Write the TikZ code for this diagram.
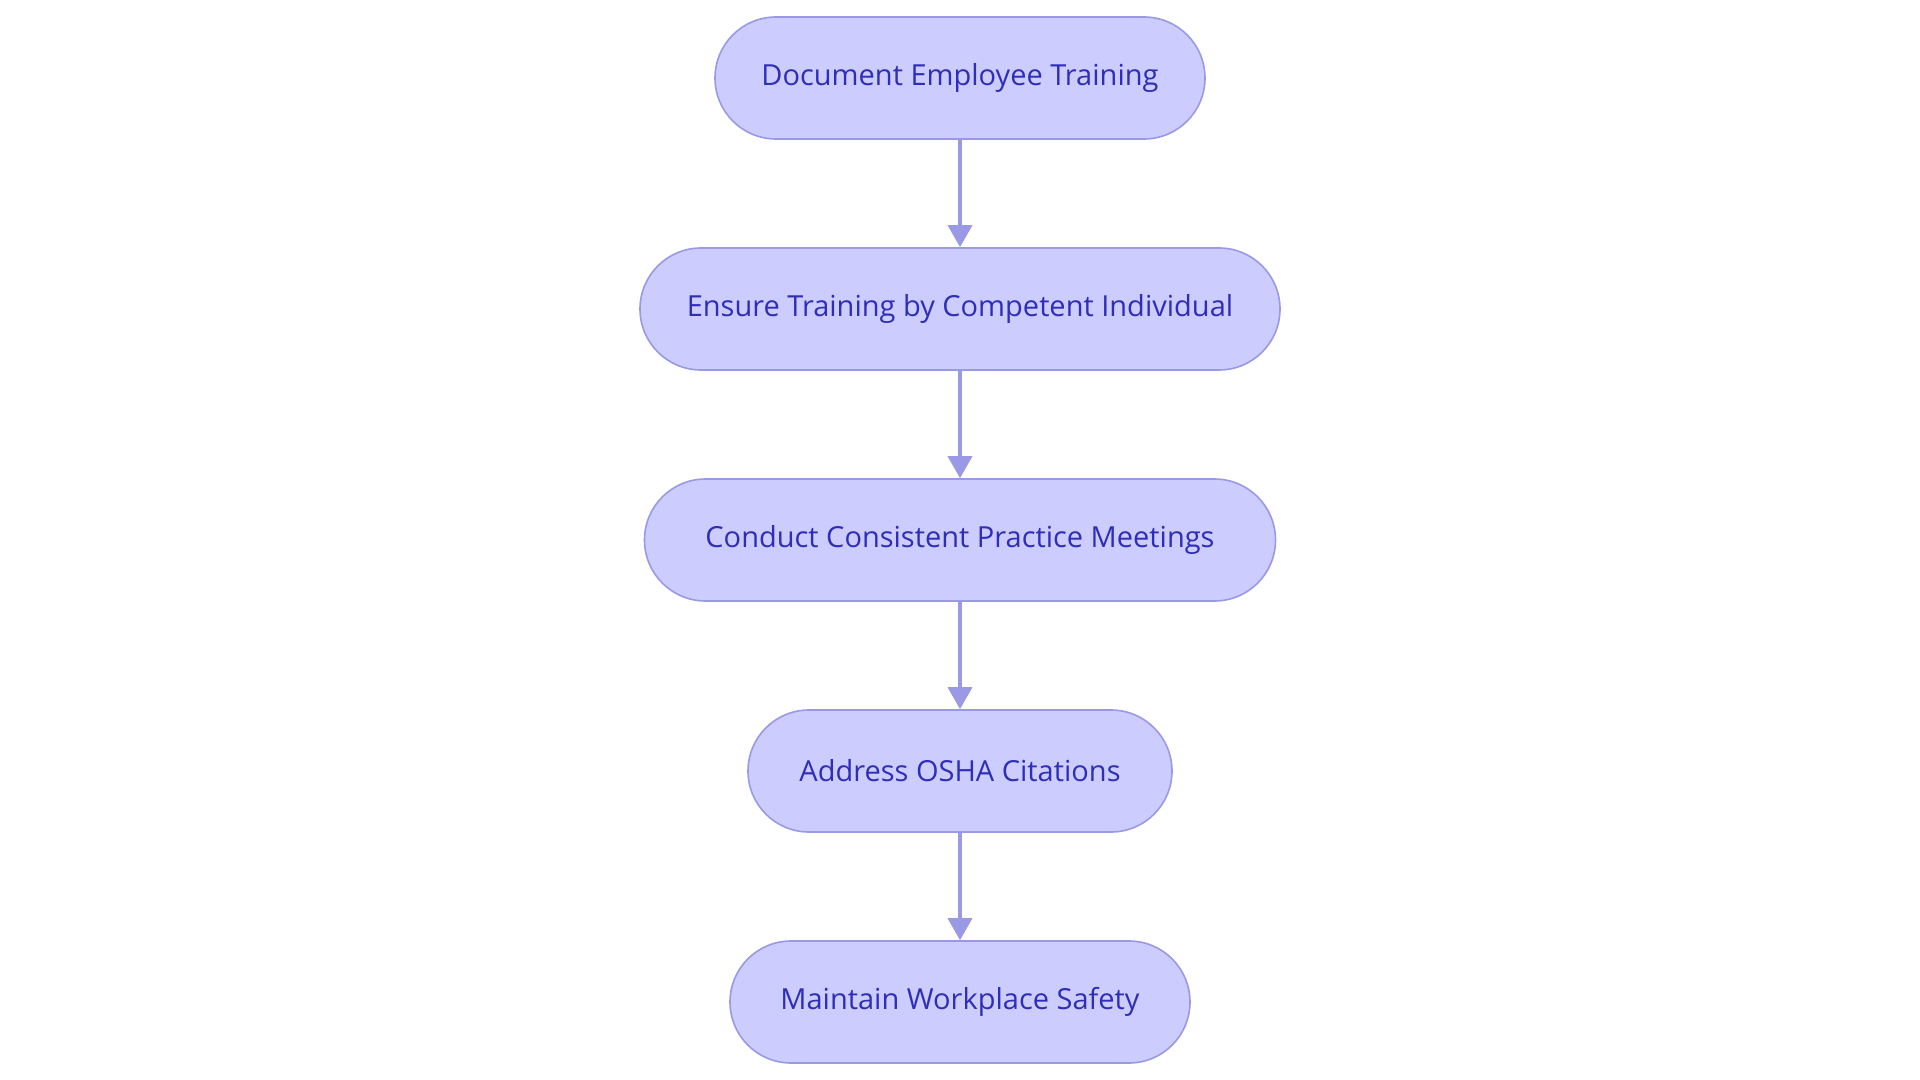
\documentclass[tikz,border=0pt]{standalone}
\usepackage{fontspec}
\setmainfont{Open Sans}
\usetikzlibrary{positioning,arrows.meta}
\definecolor{boxfill}{HTML}{CCCCFF}
\definecolor{boxline}{HTML}{9999E6}
\definecolor{boxtext}{HTML}{2E2EB8}
\begin{document}
\begin{tikzpicture}[node distance=115.5pt,on grid,
	stage/.style={draw=boxline,line width=0.8pt,fill=boxfill,text=boxtext,rounded corners=30.5pt,minimum height=61pt,font=\fontsize{14.5}{17}\selectfont},
	flow/.style={draw=boxline,line width=1.8pt,-{Triangle[length=11pt,width=12pt]}}]
	\useasboundingbox (-480pt,39pt) rectangle (480pt,-501pt);
	\node[stage,minimum width=245pt] (doc) {Document Employee Training};
	\node[stage,minimum width=320pt] (ensure) [below=of doc] {Ensure Training by Competent Individual};
	\node[stage,minimum width=315.5pt] (meet) [below=of ensure] {Conduct Consistent Practice Meetings};
	\node[stage,minimum width=212pt] (osha) [below=of meet] {Address OSHA Citations};
	\node[stage,minimum width=230pt] (safe) [below=of osha] {Maintain Workplace Safety};
	\draw[flow] (doc) -- (ensure);
	\draw[flow] (ensure) -- (meet);
	\draw[flow] (meet) -- (osha);
	\draw[flow] (osha) -- (safe);
\end{tikzpicture}
\end{document}
